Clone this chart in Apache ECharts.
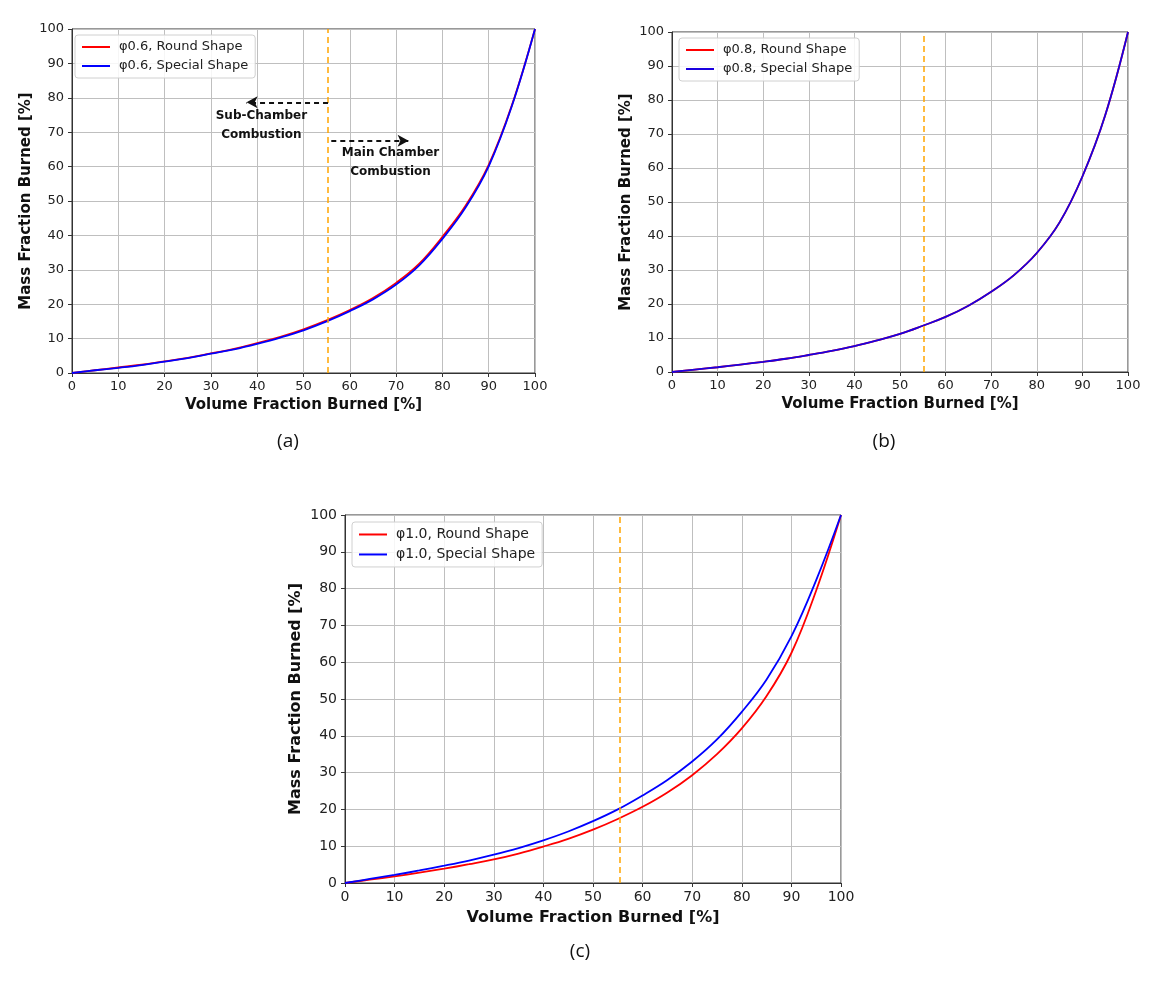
<!DOCTYPE html>
<html>
<head>
<meta charset="utf-8">
<script src="https://cdn.jsdelivr.net/npm/echarts@6/dist/echarts.min.js"></script>
<style>
  html, body { margin: 0; padding: 0; background: #fff; }
  #main { width: 1160px; height: 994px; }
</style>
</head>
<body>
<div id="main"></div>
<script>
// volume fraction burned [%] (shared x for every curve)
const volume = [0, 5, 10, 15, 20, 25, 30, 35, 40, 45, 50, 55, 60, 65, 70, 75, 80, 85, 90, 95, 100];

// (a) phi 0.6
const roundA   = [0, 0.8, 1.6, 2.4, 3.4, 4.4, 5.7, 7.0, 8.7, 10.5, 12.7, 15.3, 18.3, 21.8, 26.2, 31.8, 39.6, 48.6, 60.5, 77.8, 100];
const specialA = [0, 0.8, 1.5, 2.3, 3.3, 4.3, 5.6, 6.9, 8.5, 10.3, 12.4, 15.0, 18.0, 21.4, 25.7, 31.3, 39.0, 48.1, 60.1, 77.6, 100];
// (b) phi 0.8
const roundB   = [0, 0.7, 1.4, 2.2, 3.0, 3.9, 5.0, 6.2, 7.6, 9.3, 11.2, 13.6, 16.2, 19.5, 23.6, 28.5, 35.0, 44.0, 57.5, 75.5, 100];
const specialB = [0, 0.7, 1.4, 2.2, 3.0, 3.9, 5.0, 6.2, 7.6, 9.3, 11.2, 13.6, 16.2, 19.5, 23.6, 28.5, 35.0, 44.0, 57.5, 75.5, 100];
// (c) phi 1.0
const roundC   = [0, 0.9, 1.8, 2.8, 3.9, 5.1, 6.4, 8.0, 9.9, 12.0, 14.5, 17.4, 20.7, 24.6, 29.3, 35.0, 42.0, 50.8, 62.5, 79.5, 100];
const specialC = [0, 1.1, 2.2, 3.4, 4.7, 6.1, 7.7, 9.5, 11.6, 14.0, 16.8, 20.0, 23.8, 28.0, 33.0, 39.0, 46.5, 55.3, 67.0, 82.3, 100];

const dividerX = 55.3;
const legendA = ['φ0.6, Round Shape', 'φ0.6, Special Shape'];
const legendB = ['φ0.8, Round Shape', 'φ0.8, Special Shape'];
const legendC = ['φ1.0, Round Shape', 'φ1.0, Special Shape'];
const captions = ['(a)', '(b)', '(c)'];

// annotation arrows / text in panel (a), in data units
const leftArrow  = [[55.3, 78.7], [37.7, 78.7]];
const rightArrow = [[56.0, 67.5], [72.7, 67.5]];
const subText  = [40.9, 72.0];
const mainText = [68.8, 61.2];

const chart = echarts.init(document.getElementById('main'));

const pair = (ys) => volume.map((x, i) => [x, ys[i]]);
const FONT = 'DejaVu Sans';
const LINE_ICON = 'path://M0,0L28,0L28,2L0,2Z';

const grids = [
  { left: 72, top: 29, width: 463, height: 344 },
  { left: 672, top: 32, width: 456, height: 340 },
  { left: 345, top: 515, width: 496, height: 368 }
];
// panel (c) is drawn a bit larger in the source figure
const fontScale = [1, 1, 1.07];

function axisFor(i, dim) {
  const k = fontScale[i];
  const isX = dim === 'x';
  return {
    type: 'value', gridIndex: i, min: 0, max: 100, interval: 10,
    name: isX ? 'Volume Fraction Burned [%]' : 'Mass Fraction Burned [%]',
    nameLocation: 'middle', nameGap: isX ? Math.round(25 * k) : Math.round(38 * k),
    nameTextStyle: { fontFamily: FONT, fontWeight: 'bold', fontSize: Math.round(15 * k), color: '#111' },
    axisLine: { show: true, lineStyle: { color: '#333', width: 1 } },
    axisTick: { show: true, length: 4, lineStyle: { color: '#333' } },
    axisLabel: { fontFamily: FONT, fontSize: Math.round(13 * k), color: '#222', margin: isX ? 7 : 8 },
    splitLine: { show: true, lineStyle: { color: '#bfbfbf', width: 1 } }
  };
}

const divider = {
  silent: true, symbol: 'none', label: { show: false },
  lineStyle: { color: '#ffa500', type: [6, 4], width: 1.5 },
  emphasis: { disabled: true },
  data: [{ xAxis: dividerX }]
};

function curve(name, ys, color, idx, extra) {
  return Object.assign({
    name: name, type: 'line', xAxisIndex: idx, yAxisIndex: idx,
    data: pair(ys), smooth: 0.4, symbol: 'none', showSymbol: false,
    lineStyle: { color: color, width: 1.8 }, itemStyle: { color: color },
    z: 3
  }, extra || {});
}

const annotationLines = {
  silent: true, symbol: ['none', 'arrow'], symbolSize: [9, 11], label: { show: false },
  emphasis: { disabled: true },
  lineStyle: { color: '#111', type: [5, 4], width: 2 },
  data: [
    [{ coord: leftArrow[0] }, { coord: leftArrow[1] }],
    [{ coord: rightArrow[0] }, { coord: rightArrow[1] }]
  ]
};
const textLabel = { show: true, position: 'inside', color: '#111', fontFamily: FONT, fontWeight: 'bold', fontSize: 12, lineHeight: 19 };
const annotationText = {
  silent: true, symbol: 'rect', symbolSize: 1, itemStyle: { color: 'rgba(0,0,0,0)' },
  data: [
    { coord: subText, label: Object.assign({ formatter: 'Sub-Chamber\nCombustion' }, textLabel) },
    { coord: mainText, label: Object.assign({ formatter: 'Main Chamber\nCombustion' }, textLabel) }
  ]
};

function legendFor(names, left, top, k) {
  return {
    data: names.map(n => ({ name: n, icon: LINE_ICON })),
    orient: 'vertical', left: left, top: top,
    itemWidth: 28, itemHeight: 2, itemGap: Math.round(5 * k),
    padding: [5, 7, 5, 7],
    backgroundColor: 'rgba(255,255,255,0.85)', borderColor: '#d0d0d0', borderWidth: 1, borderRadius: 3,
    textStyle: { fontFamily: FONT, fontSize: Math.round(13 * k), color: '#222', padding: [0, 0, 0, 4], height: 14 * k, lineHeight: 14 * k },
    selectedMode: false
  };
}

const option = {
  backgroundColor: '#fff',
  animation: false,
  grid: grids.map(g => Object.assign({ show: true, borderColor: '#333', borderWidth: 1, backgroundColor: 'transparent' }, g)),
  xAxis: [0, 1, 2].map(i => axisFor(i, 'x')),
  yAxis: [0, 1, 2].map(i => axisFor(i, 'y')),
  legend: [
    legendFor(legendA, 75, 35, 1),
    legendFor(legendB, 679, 38, 1),
    legendFor(legendC, 352, 522, 1.07)
  ],
  series: [
    curve(legendA[0], roundA, '#ff0000', 0, { markLine: divider }),
    curve(legendA[1], specialA, '#0000ff', 0, { markLine: annotationLines, markPoint: annotationText }),
    curve(legendB[0], roundB, '#ff0000', 1, { markLine: divider }),
    curve(legendB[1], specialB, '#1a00e0', 1),
    curve(legendC[0], roundC, '#ff0000', 2, { markLine: divider }),
    curve(legendC[1], specialC, '#0000ff', 2)
  ],
  graphic: captions.map((t, i) => ({
    type: 'text',
    x: [288, 884, 580][i], y: [442, 442, 952][i],
    style: { text: t, fontFamily: 'Open Sans', fontSize: 19, fill: '#111', textAlign: 'center', textVerticalAlign: 'middle' }
  }))
};

chart.setOption(option);
</script>
</body>
</html>
